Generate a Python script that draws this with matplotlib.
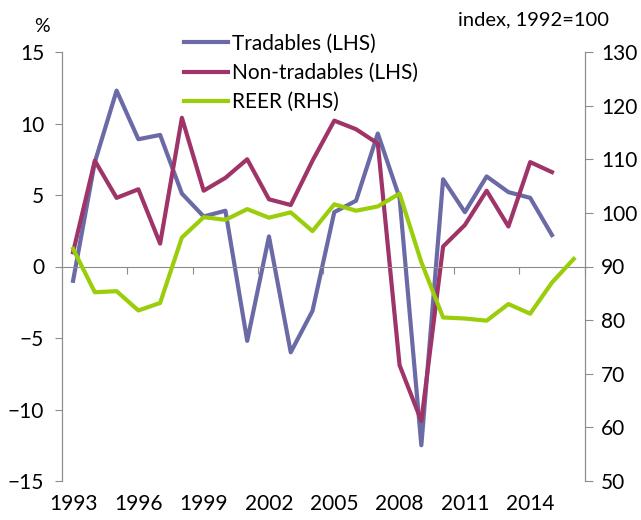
import matplotlib
matplotlib.use('Agg')
import matplotlib.pyplot as plt
import numpy as np

# Data
years = list(range(1993, 2017))
tradables = [-1.0, 7.3, 12.3, 8.9, 9.2, 5.1, 3.5, 3.9, -5.2, 2.1, -6.0, -3.1,
             3.8, 4.6, 9.3, 4.8, -12.5, 6.1, 3.8, 6.3, 5.2, 4.8, 2.2]
non_tradables = [1.0, 7.4, 4.8, 5.4, 1.6, 10.4, 5.3, 6.2, 7.5, 4.7, 4.3, 7.4,
                 10.2, 9.6, 8.6, -6.9, -10.8, 1.4, 2.9, 5.3, 2.8, 7.3, 6.6]
reer = [93.3, 85.2, 85.4, 81.8, 83.2, 95.4, 99.2, 98.7, 100.7, 99.1, 100.1, 96.6,
        101.6, 100.4, 101.2, 103.6, 90.8, 80.5, 80.3, 79.9, 83.0, 81.2, 87.0, 91.4]
year_labels = [str(y) for y in years[::3]]

col_trad = '#6A6AA6'
col_nontrad = '#9E3468'
col_reer = '#9ACD0A'
grey = '#8C8C8C'

plt.rcParams['font.family'] = ['Lato', 'DejaVu Sans']
plt.rcParams['font.size'] = 15

fig = plt.figure(figsize=(6.41, 5.2), dpi=100)
ax = fig.add_axes([0.097, 0.075, 0.815, 0.825])
ax2 = ax.twinx()

x = np.arange(len(years))
ax.plot(x[:len(tradables)], tradables, color=col_trad, lw=3, label='Tradables (LHS)')
ax.plot(x[:len(non_tradables)], non_tradables, color=col_nontrad, lw=3, label='Non-tradables (LHS)')
ax2.plot(x, reer, color=col_reer, lw=3, label='REER (RHS)')

ax.set_xlim(-0.5, len(years) - 0.5)
ax.set_ylim(-15, 15)
ax2.set_ylim(50, 130)
ax.set_yticks(range(-15, 16, 5))
ax2.set_yticks(range(50, 131, 10))

# horizontal axis crosses at zero, tick marks at category boundaries
ax.spines['bottom'].set_position(('data', 0))
ax.set_xticks(np.arange(2.5, len(years), 3))
ax.tick_params(axis='x', direction='out', length=5, color=grey, labelbottom=False)

sec = ax.secondary_xaxis('bottom')
sec.set_xticks(x[::3])
sec.set_xticklabels(year_labels)
sec.tick_params(length=0, pad=9)
sec.spines['bottom'].set_visible(False)

for a in (ax, ax2):
    a.spines['top'].set_visible(False)
    for s in ('left', 'right', 'bottom'):
        a.spines[s].set_color(grey)
ax2.spines['bottom'].set_visible(False)
ax.tick_params(axis='y', direction='out', length=5, color=grey, pad=8)
ax2.tick_params(axis='y', direction='out', length=6, color=grey, pad=6)

ax.text(-0.038, 1.04, '%', transform=ax.transAxes, ha='center', va='bottom', fontsize=14)
ax2.text(1.046, 1.055, 'index, 1992=100', transform=ax.transAxes, ha='right', va='bottom',
         fontsize=14.5)

handles = ax.get_lines() + ax2.get_lines()
ax2.legend(handles, [h.get_label() for h in handles], loc='upper left',
           bbox_to_anchor=(0.234, 1.043), frameon=False, handlelength=2.1,
           handletextpad=0.2, labelspacing=0.45, borderaxespad=0, borderpad=0)

fig.savefig('out.png', dpi=100)
